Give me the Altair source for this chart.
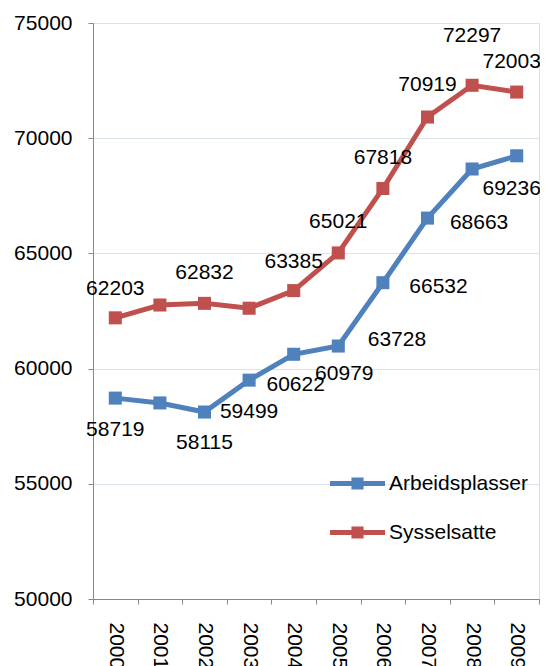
import altair as alt
import pandas as pd

years = [2000, 2001, 2002, 2003, 2004, 2005, 2006, 2007, 2008, 2009]
arbeidsplasser = [58719, 58510, 58115, 59499, 60622, 60979, 63728, 66532, 68663, 69236]
sysselsatte = [62203, 62760, 62832, 62620, 63385, 65021, 67818, 70919, 72297, 72003]
arb_labels = ["58719", "", "58115", "59499", "60622", "60979", "63728", "66532", "68663", "69236"]
sys_labels = ["62203", "", "62832", "", "63385", "65021", "67818", "70919", "72297", "72003"]
series = ["Arbeidsplasser", "Sysselsatte"]
colors = ["#4f81bd", "#c0504d"]
y_ticks = [50000, 55000, 60000, 65000, 70000, 75000]

# label nudges (pixels) as placed in the original chart
arb_label_dx = [0, 0, 0, 0, 2, 6, 14, 11, 7, -5]
arb_label_dy = [32, 32, 31, 32, 31, 28, 57, 69, 54, 33]
sys_label_dx = [0, 0, 0, 0, 0, 0, 0, 0, 0, -5]
sys_label_dy = [-29, -30, -30, -30, -29, -31, -30, -32, -49, -30]

df = pd.concat([
    pd.DataFrame({"year": years, "value": arbeidsplasser, "label": arb_labels,
                  "ldx": arb_label_dx, "ldy": arb_label_dy, "serie": series[0]}),
    pd.DataFrame({"year": years, "value": sysselsatte, "label": sys_labels,
                  "ldx": sys_label_dx, "ldy": sys_label_dy, "serie": series[1]}),
])

FONT = "Liberation Sans"
FS = 21

x = alt.X("year:O", title=None,
          scale=alt.Scale(type="band", paddingInner=0, paddingOuter=0),
          axis=alt.Axis(labelAngle=90, labelFontSize=FS, labelFont=FONT, labelColor="#000",
                        tickBand="extent", tickSize=5, tickColor="#888", domainColor="#888",
                        labelPadding=18, grid=False, labelAlign="left", labelBaseline="middle"))
y = alt.Y("value:Q", title=None,
          scale=alt.Scale(domain=[50000, 75000], nice=False, zero=False),
          axis=alt.Axis(values=y_ticks, format="d", labelFontSize=FS, labelFont=FONT,
                        labelColor="#000", tickSize=5, tickColor="#888", domainColor="#888",
                        labelPadding=16, gridColor="#d9e3f0", gridWidth=1.2))

color_scale = alt.Scale(domain=series, range=colors)
legend_path = ("M-1,-0.09L1,-0.09L1,0.09L-1,0.09Z "
               "M-0.22,-0.22L0.22,-0.22L0.22,0.22L-0.22,0.22Z")
legend = alt.Legend(title=None, orient="none", legendX=237, legendY=433,
                    symbolType=legend_path, symbolSize=3025,
                    symbolStrokeWidth=0, labelFontSize=FS, labelFont=FONT,
                    labelColor="#000", labelOffset=4, rowPadding=11, padding=0)

base = alt.Chart(df)

lines = base.mark_line(strokeWidth=5).encode(
    x=x, y=y,
    color=alt.Color("serie:N", scale=color_scale, legend=legend),
)
points = base.mark_point(shape="square", filled=True, size=170, opacity=1).encode(
    x=x, y=y,
    color=alt.Color("serie:N", scale=color_scale, legend=legend),
)
labels = base.mark_text(
    fontSize=FS, font=FONT, color="#000", align="center", baseline="middle",
    dx={"expr": "datum.ldx"}, dy={"expr": "datum.ldy"},
).encode(x=x, y=y, text="label:N")

chart = alt.layer(lines, points, labels).properties(
    width=446, height=576,
    autosize=alt.AutoSizeParams(type="none"),
    padding={"left": 85, "top": 15, "right": 1, "bottom": 67},
).configure_view(stroke=None).configure(font=FONT)

chart.save("out.html", embed_options={"renderer": "svg", "actions": False})
